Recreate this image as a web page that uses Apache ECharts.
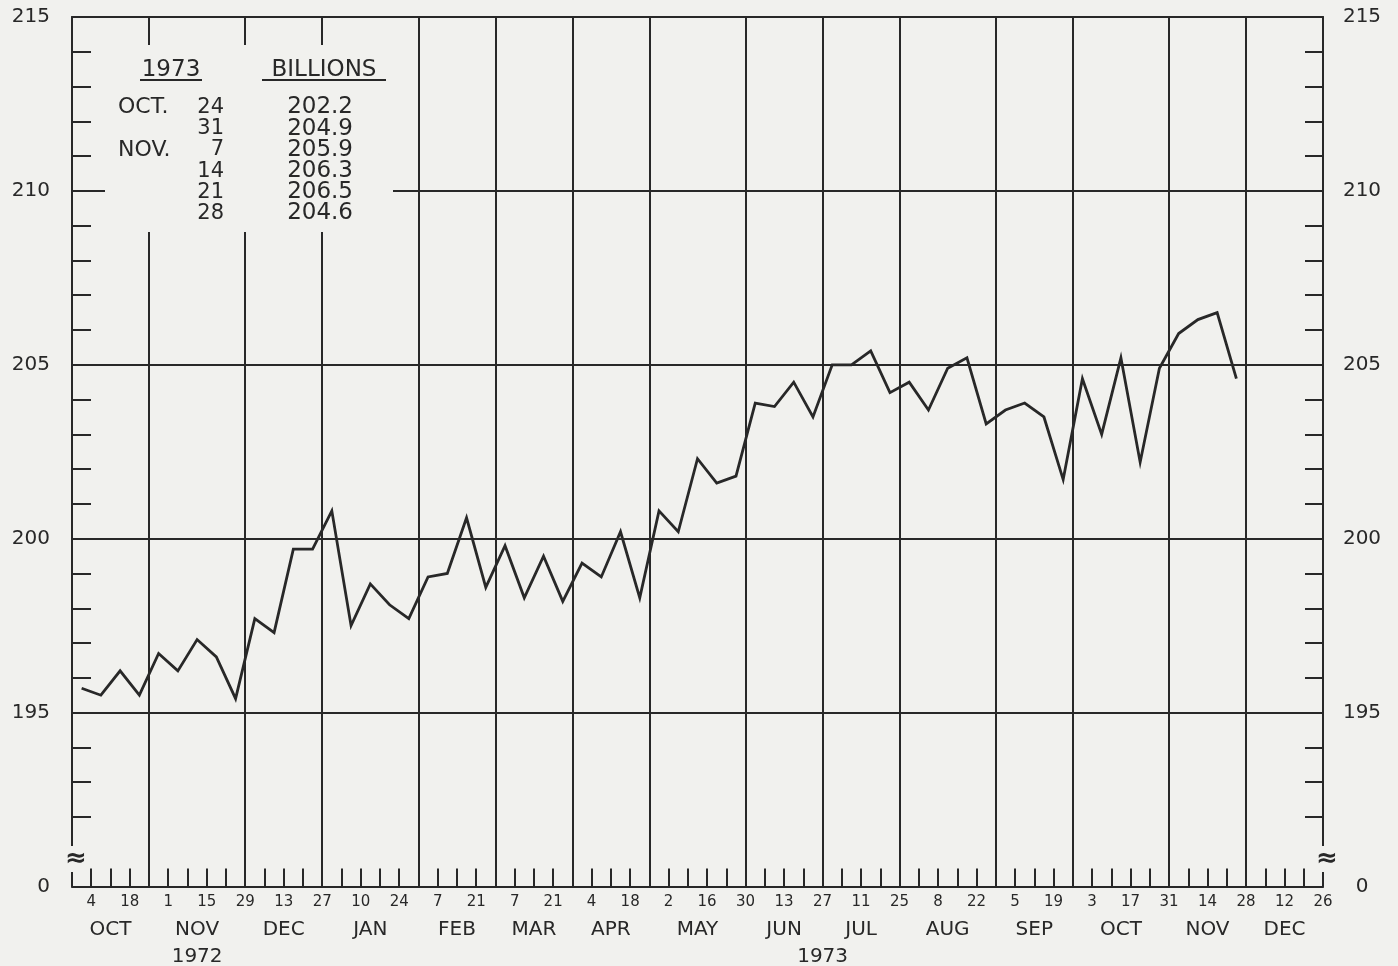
<!DOCTYPE html>
<html>
<head>
<meta charset="utf-8">
<script src="https://cdn.jsdelivr.net/npm/echarts@6/dist/echarts.min.js"></script>
<style>
html,body{margin:0;padding:0;background:#f1f1ee;}
#c{width:1398px;height:966px;}
</style>
</head>
<body>
<div id="c"></div>
<script>
// ---- data (weekly values, billions) ----
const weekValues = [
  195.7, 195.5, 196.2, 195.5, 196.7, 196.2, 197.1, 196.6, 195.4, 197.7,
  197.3, 199.7, 199.7, 200.8, 197.5, 198.7, 198.1, 197.7, 198.9, 199.0,
  200.6, 198.6, 199.8, 198.3, 199.5, 198.2, 199.3, 198.9, 200.2, 198.3,
  200.8, 200.2, 202.3, 201.6, 201.8, 203.9, 203.8, 204.5, 203.5, 205.0,
  205.0, 205.4, 204.2, 204.5, 203.7, 204.9, 205.2, 203.3, 203.7, 203.9,
  203.5, 201.7, 204.6, 203.0, 205.2, 202.2, 204.9, 205.9, 206.3, 206.5,
  204.6
];
// week-tick index (0 = Oct 4 1972) of the first plotted value
const firstValueWeek = -0.5;

// ---- axis labels ----
const dayLabels = ['4','18','1','15','29','13','27','10','24','7','21','7','21','4','18',
  '2','16','30','13','27','11','25','8','22','5','19','3','17','31','14','28','12','26'];
const monthLabels = ['OCT','NOV','DEC','JAN','FEB','MAR','APR','MAY','JUN','JUL','AUG','SEP','OCT','NOV','DEC'];
// month boundaries in week-tick index (axis start, month-end lines..., axis end)
const monthBounds = [-1, 3, 8, 12, 17, 21, 25, 29, 34, 38, 42, 47, 51, 56, 60, 64];
const yearLabels = ['1972', '1973'];
const yearPos = [5.5, 38];

// ---- inset table ----
const tableHead = ['1973', 'BILLIONS'];
const tableMonths = ['OCT.', '', 'NOV.', '', '', ''];
const tableDays = ['24', '31', '7', '14', '21', '28'];
const tableValues = [202.2, 204.9, 205.9, 206.3, 206.5, 204.6];

// ---- build ----
const INK = '#282828';
const BG = '#f1f1ee';
const FONT = 'DejaVu Sans';
const X_MIN = -1, X_MAX = 64, Y_MIN = 190, Y_MAX = 215;

const seriesData = weekValues.map((v, i) => [firstValueWeek + i, v]);
const dayTickVals = dayLabels.map((_, i) => i * 2);
const weekTicks = [];
for (let i = X_MIN + 1; i < X_MAX; i++) weekTicks.push(i);
const monthEnds = monthBounds.slice(1, -1);
const monthCenters = monthLabels.map((_, i) => (monthBounds[i] + monthBounds[i + 1]) / 2);
const minorY = [];
for (let v = 192; v < Y_MAX; v++) if (v % 5 !== 0) minorY.push(v);

const lineW = 2;
const chart = echarts.init(document.getElementById('c'), null, {renderer: 'canvas'});

const baseX = {type: 'value', min: X_MIN, max: X_MAX, interval: 1, gridIndex: 0};
const baseY = {type: 'value', min: Y_MIN, max: Y_MAX, interval: 5, gridIndex: 0};
const off = {show: false};

const yFmt = v => (v === Y_MIN ? '0' : String(v));

const option = {
  backgroundColor: BG,
  animation: false,
  grid: {left: 72, right: 75, top: 17, bottom: 79.5, containLabel: false, outerBoundsMode: 'none'},
  xAxis: [
    Object.assign({}, baseX, {
      position: 'bottom',
      axisLine: {show: true, onZero: false, lineStyle: {color: INK, width: lineW}},
      axisTick: {show: true, inside: true, length: 18, customValues: weekTicks, lineStyle: {color: INK, width: lineW}},
      axisLabel: {show: true, customValues: dayTickVals, margin: 8, color: INK, fontFamily: FONT, fontSize: 15,
        formatter: v => dayLabels[Math.round(v / 2)] || ''},
      splitLine: off
    }),
    Object.assign({}, baseX, {
      position: 'bottom',
      axisLine: {show: false, onZero: false},
      axisTick: {show: false, customValues: monthEnds},
      axisLabel: {show: true, customValues: monthCenters, margin: 33, color: INK, fontFamily: FONT, fontSize: 20,
        formatter: v => monthLabels[monthCenters.indexOf(v)] || ''},
      splitLine: {show: true, lineStyle: {color: INK, width: lineW}}
    }),
    Object.assign({}, baseX, {
      position: 'bottom',
      axisLine: {show: false, onZero: false},
      axisTick: off,
      axisLabel: {show: true, customValues: yearPos, margin: 60, color: INK, fontFamily: FONT, fontSize: 20,
        formatter: v => yearLabels[yearPos.indexOf(v)] || ''},
      splitLine: off
    }),
    Object.assign({}, baseX, {
      position: 'top',
      axisLine: {show: true, onZero: false, lineStyle: {color: INK, width: lineW}},
      axisTick: off, axisLabel: off, splitLine: off
    })
  ],
  yAxis: [
    Object.assign({}, baseY, {
      position: 'left',
      axisLine: {show: true, onZero: false, lineStyle: {color: INK, width: lineW}},
      axisTick: off,
      axisLabel: {show: true, margin: 22, color: INK, fontFamily: FONT, fontSize: 20, formatter: yFmt},
      splitLine: {show: true, lineStyle: {color: INK, width: lineW}}
    }),
    Object.assign({}, baseY, {
      position: 'left',
      axisLine: {show: false, onZero: false},
      axisTick: {show: true, inside: true, length: 19, customValues: minorY, lineStyle: {color: INK, width: lineW}},
      axisLabel: off, splitLine: off
    }),
    Object.assign({}, baseY, {
      position: 'right',
      axisLine: {show: true, onZero: false, lineStyle: {color: INK, width: lineW}},
      axisTick: {show: true, inside: true, length: 18, customValues: minorY, lineStyle: {color: INK, width: lineW}},
      axisLabel: {show: true, margin: 39, align: 'center', color: INK, fontFamily: FONT, fontSize: 20, formatter: yFmt},
      splitLine: off
    })
  ],
  series: [{
    type: 'line',
    xAxisIndex: 0,
    yAxisIndex: 0,
    data: seriesData,
    symbol: 'none',
    z: 5,
    lineStyle: {color: INK, width: 2.8, join: 'miter'}
  }]
};
chart.setOption(option);

// inset table and axis-break marks
const tableEls = [
  {type: 'rect', shape: {x: 105, y: 45, width: 288, height: 187}, style: {fill: BG}, z: 50},
  {type: 'text', x: 171, y: 70, style: {text: tableHead[0], fill: INK, font: '23px "DejaVu Sans"', align: 'center', verticalAlign: 'middle'}, z: 51},
  {type: 'text', x: 324, y: 70, style: {text: tableHead[1], fill: INK, font: '23px "DejaVu Sans"', align: 'center', verticalAlign: 'middle'}, z: 51},
  {type: 'line', shape: {x1: 140, y1: 80, x2: 202, y2: 80}, style: {stroke: INK, lineWidth: 2}, z: 51},
  {type: 'line', shape: {x1: 262, y1: 80, x2: 386, y2: 80}, style: {stroke: INK, lineWidth: 2}, z: 51}
];
tableValues.forEach((v, i) => {
  const y = 107.5 + i * 21.2;
  tableEls.push({type: 'text', x: 118, y: y, style: {text: tableMonths[i], fill: INK, font: '22px "DejaVu Sans"', align: 'left', verticalAlign: 'middle'}, z: 51});
  tableEls.push({type: 'text', x: 224, y: y, style: {text: tableDays[i], fill: INK, font: '21px "DejaVu Sans"', align: 'right', verticalAlign: 'middle'}, z: 51});
  tableEls.push({type: 'text', x: 353, y: y, style: {text: v.toFixed(1), fill: INK, font: '23px "DejaVu Sans"', align: 'right', verticalAlign: 'middle'}, z: 51});
});
const breakVal = 190.79;
const pL = chart.convertToPixel({xAxisIndex: 0, yAxisIndex: 0}, [X_MIN, breakVal]);
const pR = chart.convertToPixel({xAxisIndex: 0, yAxisIndex: 0}, [X_MAX, breakVal]);
[pL, pR].forEach(p => {
  tableEls.push({type: 'text', x: p[0] + 4, y: p[1], style: {text: '\u2248', fill: INK, font: 'bold 26px "DejaVu Sans"', align: 'center', verticalAlign: 'middle', backgroundColor: BG, padding: [0, 0]}, z: 52});
});
chart.setOption({graphic: {elements: tableEls}});
</script>
</body>
</html>
